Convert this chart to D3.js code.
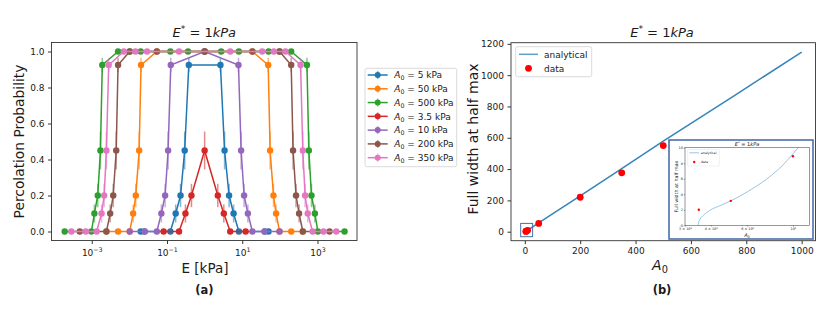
<!DOCTYPE html>
<html>
<head>
<meta charset="utf-8" />
<title>Percolation probability and FWHM</title>
<script src="https://cdn.jsdelivr.net/npm/d3@7"></script>
<style>
  body { margin: 0; background: #fff; }
  svg text { font-family: "DejaVu Sans", sans-serif; fill: #1a1a1a; }
  .tick line { stroke: #333; }
  .tick text { fill: #1a1a1a; }
</style>
</head>
<body>
<svg id="fig" width="830" height="312"></svg>
<script>
// ---- panel (a): percolation probability vs E [kPa], one pair of arrays per A0 ----
var seriesNames = ["5", "50", "500", "3.5", "10", "200", "350"];
var seriesColors = ["#1f77b4", "#ff7f0e", "#2ca02c", "#d62728", "#9467bd", "#8c564b", "#e377c2"];

var eA5 = [0.02, 0.0251, 0.123, 0.170, 0.229, 0.295, 0.380, 2.63, 3.39, 4.47, 5.89, 8.13, 39.8, 50];
var pA5 = [0, 0, 0, 0.1, 0.2, 0.45, 0.925, 0.925, 0.45, 0.2, 0.1, 0, 0, 0];

var eA50 = [0.00245, 0.005, 0.0102, 0.0126, 0.0148, 0.0182, 0.0204, 0.0537, 1, 18.6, 49, 55, 67.6, 79.4, 98, 200, 407];
var pA50 = [0, 0, 0, 0.1, 0.2, 0.45, 0.925, 1, 1, 1, 0.925, 0.45, 0.2, 0.1, 0, 0, 0];

var eA500 = [0.000191, 0.000977, 0.001175, 0.001445, 0.0017, 0.001905, 0.005, 0.0102, 0.02, 0.123, 0.363, 1,
             2.75, 8.13, 50, 98, 200, 525, 589, 692, 851, 1023, 5248];
var pA500 = [0, 0, 0.1, 0.2, 0.45, 0.925, 1, 1, 1, 1, 1, 1, 1, 1, 1, 1, 1, 0.925, 0.45, 0.2, 0.1, 0, 0];

var eA3p5 = [0.0813, 0.209, 0.309, 0.447, 1, 2.24, 3.24, 4.79, 12.3];
var pA3p5 = [0, 0, 0.1, 0.2, 0.45, 0.2, 0.1, 0, 0];

var eA10 = [0.0102, 0.0257, 0.0537, 0.0708, 0.0891, 0.107, 0.126, 1, 7.94, 9.33, 11.2, 14.1, 18.6, 38.9, 98];
var pA10 = [0, 0, 0, 0.1, 0.2, 0.45, 0.925, 1, 0.925, 0.45, 0.2, 0.1, 0, 0, 0];

var eA200 = [0.000479, 0.00245, 0.00309, 0.00372, 0.00447, 0.005, 0.0102, 0.0537, 1, 18.6, 98, 200, 224, 269, 324, 407, 2089];
var pA200 = [0, 0, 0.1, 0.2, 0.45, 0.925, 1, 1, 1, 1, 1, 0.925, 0.45, 0.2, 0.1, 0, 0];

var eA350 = [0.000288, 0.000692, 0.00135, 0.00182, 0.00214, 0.00245, 0.00282, 0.00708, 0.0145, 0.0295, 0.209,
             4.79, 33.9, 69.2, 141, 355, 407, 468, 550, 741, 1445, 3162];
var pA350 = [0, 0, 0, 0.1, 0.2, 0.45, 0.925, 1, 1, 1, 1, 1, 1, 1, 1, 0.925, 0.45, 0.2, 0.1, 0, 0, 0];

// half length of the error bar at each probability level
var errLevels = [[0.1, 0.05], [0.2, 0.065], [0.45, 0.105], [0.925, 0.04]];

var xTicksA = [1e-3, 1e-1, 1e1, 1e3];
var xTickExpA = ["\u22123", "\u22121", "1", "3"];
var yTicksA = [0, 0.2, 0.4, 0.6, 0.8, 1.0];

// ---- panel (b): full width at half max vs A0 ----
var anaA0 = [3.47, 3.5, 3.55, 3.65, 3.8, 3.94, 4.5, 5, 6, 7.4, 8.5, 10, 10.6, 12, 20, 50, 100, 200, 350, 500, 750, 1000];
var anaFwhm = [0, 0.45, 0.8, 1.2, 1.6, 1.9, 2.6, 3.15, 4.3, 5.9, 7.2, 9.2, 10, 11.8, 21, 56, 114, 229, 403, 578, 862, 1147];
var dataA0 = [3.5, 5, 10, 50, 200, 350, 500];
var dataFwhm = [2, 3.15, 8.9, 53, 220, 376, 550];
var zoomBoxX = [-15, 28];
var zoomBoxY = [-32, 53];

var xTicksB = [0, 200, 400, 600, 800, 1000];
var yTicksB = [0, 200, 400, 600, 800, 1000, 1200];
var xTicksInset = [3, 4, 6, 10];
var xTickLabInset = [["3 \u00d7 10", "0"], ["4 \u00d7 10", "0"], ["6 \u00d7 10", "0"], ["10", "1"]];
var yTicksInset = [0, 2, 4, 6, 8, 10];

var svg = d3.select("#fig");

function errFor(p) {
  var m = errLevels.filter(function (d) { return d[0] === p; });
  return m.length ? m[0][1] : 0;
}

function frame(g, b, w) {
  g.append("rect").attr("x", b.x0).attr("y", b.y0)
    .attr("width", b.x1 - b.x0).attr("height", b.y1 - b.y0)
    .attr("fill", "none").attr("stroke", "#333").attr("stroke-width", w || 0.9);
}

// title "E* = 1kPa" in math style
function mathTitle(g, x, y, size) {
  var t = g.append("text").attr("x", x).attr("y", y).attr("text-anchor", "middle").attr("font-size", size);
  t.append("tspan").attr("font-style", "italic").text("E");
  t.append("tspan").attr("font-size", size * 0.7).attr("dy", -size * 0.38).text("*");
  t.append("tspan").attr("dy", size * 0.38).text(" = 1");
  t.append("tspan").attr("font-style", "italic").text("kPa");
}

function a0Text(t, size, rest) {
  t.append("tspan").attr("font-style", "italic").text("A");
  t.append("tspan").attr("font-size", size * 0.7).attr("dy", size * 0.22).text("0");
  if (rest) t.append("tspan").attr("dy", -size * 0.22).text(rest);
}

// =================== panel (a) ===================
var A = { x0: 51.5, x1: 357, y0: 42.5, y1: 240.5 };
var xA = d3.scaleLog().domain([Math.pow(10, -4.07), Math.pow(10, 4.05)]).range([A.x0, A.x1]);
var yA = d3.scaleLinear().domain([-0.05, 1.05]).range([A.y1, A.y0]);

var gA = svg.append("g");

var axA = gA.append("g").attr("transform", "translate(0," + A.y1 + ")")
  .call(d3.axisBottom(xA).tickValues(xTicksA).tickSize(3.5).tickPadding(3).tickFormat(""));
axA.select(".domain").remove();
axA.selectAll(".tick").each(function (d, i) {
  var t = d3.select(this).append("text").attr("y", 15).attr("text-anchor", "middle")
    .attr("font-size", 9).attr("fill", "#1a1a1a");
  t.append("tspan").text("10");
  t.append("tspan").attr("font-size", 6.3).attr("dy", -4).text(xTickExpA[i]);
});

var ayA = gA.append("g").attr("transform", "translate(" + A.x0 + ",0)")
  .call(d3.axisLeft(yA).tickValues(yTicksA).tickSize(3.5).tickPadding(3.5).tickFormat(d3.format(".1f")));
ayA.select(".domain").remove();
ayA.selectAll("text").attr("font-size", 9);

var series = [
  { e: eA5, p: pA5 }, { e: eA50, p: pA50 }, { e: eA500, p: pA500 }, { e: eA3p5, p: pA3p5 },
  { e: eA10, p: pA10 }, { e: eA200, p: pA200 }, { e: eA350, p: pA350 }
];

var line = d3.line().x(function (d) { return xA(d[0]); }).y(function (d) { return yA(d[1]); });

series.forEach(function (s, k) {
  var col = seriesColors[k];
  var pts = s.e.map(function (e, i) { return [e, s.p[i]]; });
  var g = gA.append("g");
  g.append("path").datum(pts).attr("d", line)
    .attr("fill", "none").attr("stroke", col).attr("stroke-width", 1.5);
  g.selectAll("line.err").data(pts.filter(function (d) { return errFor(d[1]) > 0; }))
    .enter().append("line").attr("class", "err")
    .attr("x1", function (d) { return xA(d[0]); }).attr("x2", function (d) { return xA(d[0]); })
    .attr("y1", function (d) { return yA(d[1] - errFor(d[1])); })
    .attr("y2", function (d) { return yA(d[1] + errFor(d[1])); })
    .attr("stroke", col).attr("stroke-opacity", 0.55).attr("stroke-width", 1.5);
  g.selectAll("circle").data(pts).enter().append("circle")
    .attr("cx", function (d) { return xA(d[0]); }).attr("cy", function (d) { return yA(d[1]); })
    .attr("r", 3.2).attr("fill", col);
});

frame(gA, A);
mathTitle(gA, 204.3, 36.5, 13);

gA.append("text").attr("transform", "translate(23.5," + ((A.y0 + A.y1) / 2) + ") rotate(-90)")
  .attr("text-anchor", "middle").attr("font-size", 13.8).text("Percolation Probability");
gA.append("text").attr("x", 205).attr("y", 272.5).attr("text-anchor", "middle")
  .attr("font-size", 13.5).text("E [kPa]");
gA.append("text").attr("x", 204.3).attr("y", 294).attr("text-anchor", "middle")
  .attr("font-size", 11.5).attr("font-weight", "bold").text("(a)");

// legend of panel (a)
var legA = gA.append("g");
legA.append("rect").attr("x", 365).attr("y", 68.3).attr("width", 91.7).attr("height", 98.4)
  .attr("rx", 2).attr("fill", "#fff").attr("stroke", "#d0d0d0").attr("stroke-width", 0.8);
seriesNames.forEach(function (n, i) {
  var y = 75 + i * 13.78, col = seriesColors[i];
  legA.append("line").attr("x1", 367.7).attr("x2", 387.7).attr("y1", y).attr("y2", y)
    .attr("stroke", col).attr("stroke-width", 1.5);
  legA.append("line").attr("x1", 377.7).attr("x2", 377.7).attr("y1", y - 4).attr("y2", y + 4)
    .attr("stroke", col).attr("stroke-opacity", 0.55).attr("stroke-width", 1.5);
  legA.append("circle").attr("cx", 377.7).attr("cy", y).attr("r", 3).attr("fill", col);
  var t = legA.append("text").attr("x", 394.3).attr("y", y + 3.2).attr("font-size", 9);
  a0Text(t, 9, " = " + n + " kPa");
});

// =================== panel (b) ===================
var B = { x0: 511, x1: 815.5, y0: 42.7, y1: 240.7 };
var xB = d3.scaleLinear().domain([-50, 1050]).range([B.x0, B.x1]);
var yB = d3.scaleLinear().domain([-57.5, 1207.5]).range([B.y1, B.y0]);
var gB = svg.append("g");

var axB = gB.append("g").attr("transform", "translate(0," + B.y1 + ")")
  .call(d3.axisBottom(xB).tickValues(xTicksB).tickSize(3.5).tickPadding(3.5).tickFormat(d3.format("d")));
axB.select(".domain").remove();
axB.selectAll("text").attr("font-size", 9);
var ayB = gB.append("g").attr("transform", "translate(" + B.x0 + ",0)")
  .call(d3.axisLeft(yB).tickValues(yTicksB).tickSize(3.5).tickPadding(3.5).tickFormat(d3.format("d")));
ayB.select(".domain").remove();
ayB.selectAll("text").attr("font-size", 9);

var anaPts = anaA0.map(function (a, i) { return [a, anaFwhm[i]]; });
gB.append("path").datum(anaPts)
  .attr("d", d3.line().x(function (d) { return xB(d[0]); }).y(function (d) { return yB(d[1]); }))
  .attr("fill", "none").attr("stroke", "#1f77b4").attr("stroke-opacity", 0.9).attr("stroke-width", 1.5);
gB.selectAll("circle.dat").data(dataA0).enter().append("circle").attr("class", "dat")
  .attr("cx", function (d) { return xB(d); }).attr("cy", function (d, i) { return yB(dataFwhm[i]); })
  .attr("r", 3.4).attr("fill", "#ff0000");

gB.append("rect").attr("x", xB(zoomBoxX[0])).attr("y", yB(zoomBoxY[1]))
  .attr("width", xB(zoomBoxX[1]) - xB(zoomBoxX[0])).attr("height", yB(zoomBoxY[0]) - yB(zoomBoxY[1]))
  .attr("fill", "none").attr("stroke", "#4a6fa8").attr("stroke-width", 1);

frame(gB, B);
mathTitle(gB, 662, 36.5, 13);
gB.append("text").attr("transform", "translate(478,139) rotate(-90)")
  .attr("text-anchor", "middle").attr("font-size", 14).text("Full width at half max");
var xl = gB.append("text").attr("x", 660).attr("y", 270).attr("text-anchor", "middle").attr("font-size", 14);
a0Text(xl, 14);
gB.append("text").attr("x", 662).attr("y", 294).attr("text-anchor", "middle")
  .attr("font-size", 11.5).attr("font-weight", "bold").text("(b)");

// legend of panel (b)
var legB = gB.append("g");
legB.append("rect").attr("x", 515.7).attr("y", 46.7).attr("width", 76).attr("height", 30)
  .attr("rx", 2).attr("fill", "#fff").attr("stroke", "#d0d0d0").attr("stroke-width", 0.8);
legB.append("line").attr("x1", 519).attr("x2", 538).attr("y1", 54.3).attr("y2", 54.3)
  .attr("stroke", "#1f77b4").attr("stroke-opacity", 0.7).attr("stroke-width", 1.5);
legB.append("text").attr("x", 544).attr("y", 57.5).attr("font-size", 9).text("analytical");
legB.append("circle").attr("cx", 528.5).attr("cy", 68.3).attr("r", 3.4).attr("fill", "#ff0000");
legB.append("text").attr("x", 544).attr("y", 71.5).attr("font-size", 9).text("data");

// ---- inset ----
var gI = svg.append("g");
gI.append("rect").attr("x", 669).attr("y", 140).attr("width", 144).attr("height", 99)
  .attr("fill", "#fff").attr("stroke", "#4a6fa8").attr("stroke-width", 1.6);
var C = { x0: 685, x1: 809.3, y0: 147.7, y1: 225.3 };
var xC = d3.scaleLog().domain([3, 12]).range([C.x0, C.x1]);
var yC = d3.scaleLinear().domain([0, 10]).range([C.y1, C.y0]);

svg.append("clipPath").attr("id", "clipC").append("rect")
  .attr("x", C.x0).attr("y", C.y0).attr("width", C.x1 - C.x0).attr("height", C.y1 - C.y0);

gI.append("path").datum(anaPts).attr("clip-path", "url(#clipC)")
  .attr("d", d3.line().curve(d3.curveMonotoneX)
    .x(function (d) { return xC(d[0]); }).y(function (d) { return yC(d[1]); }))
  .attr("fill", "none").attr("stroke", "#8dbde3").attr("stroke-width", 0.9);
gI.selectAll("circle.din").data(dataA0.filter(function (a) { return a <= 12; })).enter()
  .append("circle").attr("class", "din")
  .attr("cx", function (d) { return xC(d); }).attr("cy", function (d, i) { return yC(dataFwhm[i]); })
  .attr("r", 1.2).attr("fill", "#ff0000");
frame(gI, C, 0.5);

var axC = gI.append("g").attr("transform", "translate(0," + C.y1 + ")")
  .call(d3.axisBottom(xC).tickValues(xTicksInset).tickSize(1.2).tickFormat(""));
axC.select(".domain").remove();
axC.selectAll(".tick line").attr("stroke-width", 0.5);
axC.selectAll(".tick").each(function (d, i) {
  var t = d3.select(this).append("text").attr("y", 5).attr("text-anchor", "middle")
    .attr("font-size", 3.4).attr("fill", "#1a1a1a");
  t.append("tspan").text(xTickLabInset[i][0]);
  t.append("tspan").attr("font-size", 2.4).attr("dy", -1.4).text(xTickLabInset[i][1]);
});
var ayC = gI.append("g").attr("transform", "translate(" + C.x0 + ",0)")
  .call(d3.axisLeft(yC).tickValues(yTicksInset).tickSize(1.2).tickPadding(1));
ayC.select(".domain").remove();
ayC.selectAll(".tick line").attr("stroke-width", 0.5);
ayC.selectAll("text").attr("font-size", 3.4);

mathTitle(gI, 747, 145.6, 5);
gI.append("text").attr("transform", "translate(677.5," + ((C.y0 + C.y1) / 2) + ") rotate(-90)")
  .attr("text-anchor", "middle").attr("font-size", 4.8).text("Full width at half max");
var xlI = gI.append("text").attr("x", 747).attr("y", 237).attr("text-anchor", "middle").attr("font-size", 5);
a0Text(xlI, 5);

var legI = gI.append("g");
legI.append("rect").attr("x", 687.7).attr("y", 149.3).attr("width", 31.6).attr("height", 16.7)
  .attr("rx", 0.8).attr("fill", "#fff").attr("stroke", "#d8d8d8").attr("stroke-width", 0.4);
legI.append("line").attr("x1", 689.5).attr("x2", 699).attr("y1", 152.8).attr("y2", 152.8)
  .attr("stroke", "#8dbde3").attr("stroke-width", 0.9);
legI.append("text").attr("x", 701).attr("y", 154).attr("font-size", 3.2).text("analytical");
legI.append("circle").attr("cx", 694.2).attr("cy", 162).attr("r", 1.2).attr("fill", "#ff0000");
legI.append("text").attr("x", 701).attr("y", 163.2).attr("font-size", 3.2).text("data");
</script>
</body>
</html>
